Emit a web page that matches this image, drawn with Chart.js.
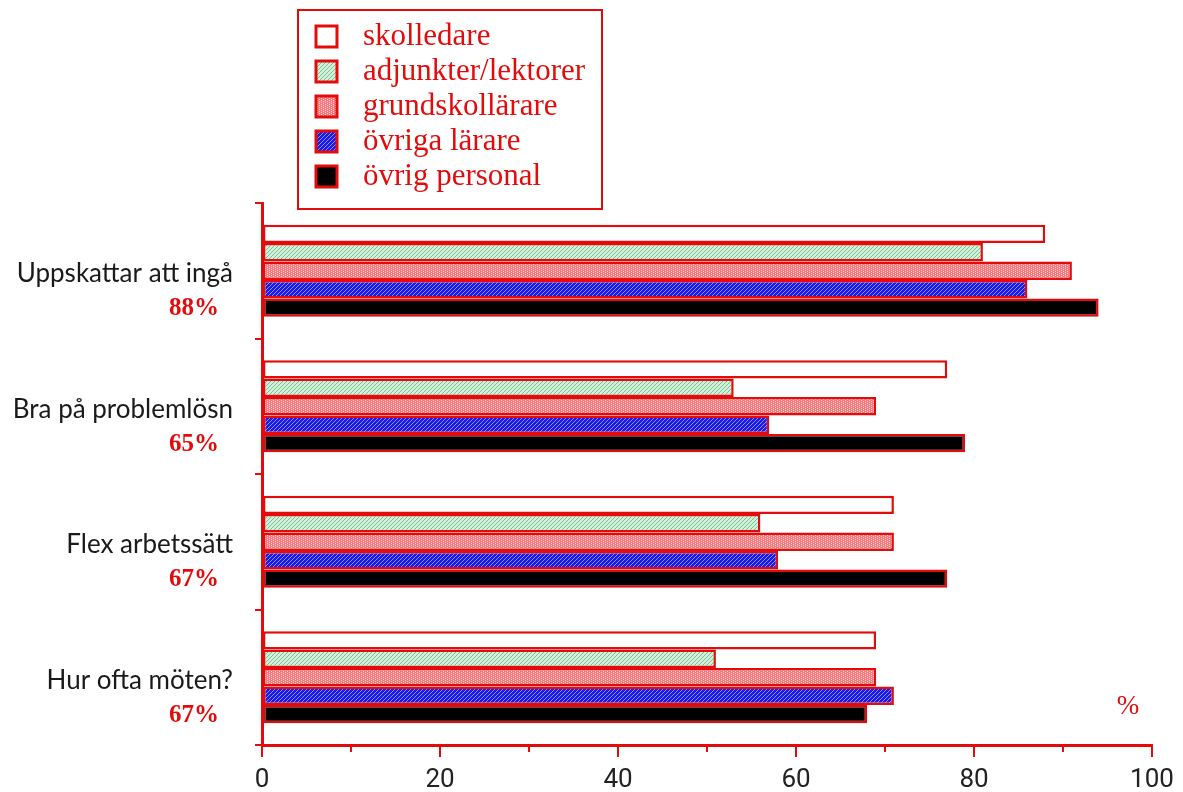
<!DOCTYPE html>
<html>
<head>
  <meta charset="utf-8">
  <script src="https://cdn.jsdelivr.net/npm/chart.js"></script>
  <style>
    html, body { margin: 0; padding: 0; background: #fff; }
    #wrap { width: 1183px; height: 792px; position: relative; }
  </style>
</head>
<body>
  <div id="wrap"><canvas id="chart"></canvas></div>

  <script>
    // kategorier (uppifrån och ned) och andel per fråga
    const categories = ['Uppskattar att ingå', 'Bra på problemlösn', 'Flex arbetssätt', 'Hur ofta möten?'];
    const shares = ['88%', '65%', '67%', '67%'];

    // personalgrupper och deras värden (%)
    const groups = ['skolledare', 'adjunkter/lektorer', 'grundskollärare', 'övriga lärare', 'övrig personal'];
    const skolledare = [88, 77, 71, 69];
    const adjunkter = [81, 53, 56, 51];
    const grundskollarare = [91, 69, 71, 69];
    const ovrigaLarare = [86, 57, 58, 71];
    const ovrigPersonal = [94, 79, 77, 68];

    const xTicks = [0, 20, 40, 60, 80, 100];

    const RED = '#e30b0b';

    // små rastermönster som fyllnad
    function makePattern(bg, fg, pixels) {
      const c = document.createElement('canvas');
      c.width = 4; c.height = 4;
      const g = c.getContext('2d');
      g.fillStyle = bg;
      g.fillRect(0, 0, 4, 4);
      g.fillStyle = fg;
      pixels.forEach(p => g.fillRect(p[0], p[1], 1, 1));
      return g.createPattern(c, 'repeat');
    }

    const fills = [
      '#ffffff',
      makePattern('#d6eedd', '#6cc485', [[0, 3], [1, 2], [2, 1], [3, 0]]),
      makePattern('#ef7d7d', '#fbd2d2', [[1, 0], [1, 2], [3, 1], [3, 3]]),
      makePattern('#1a1ae8', '#8f8fff', [[0, 3], [1, 2], [2, 1], [3, 0]]),
      '#000000'
    ];

    const seriesValues = [skolledare, adjunkter, grundskollarare, ovrigaLarare, ovrigPersonal];

    // andelar under kategorinamnen, legendruta och %-tecken
    const extras = {
      id: 'extras',
      afterDraw(chart) {
        const ctx = chart.ctx;
        const y = chart.scales.y;
        ctx.save();

        // korta mellanstreck på x-axeln
        const x = chart.scales.x;
        ctx.strokeStyle = RED;
        ctx.lineWidth = 2;
        for (let v = 10; v < 100; v += 20) {
          const px = Math.round(x.getPixelForValue(v));
          ctx.beginPath();
          ctx.moveTo(px, chart.chartArea.bottom);
          ctx.lineTo(px, chart.chartArea.bottom + 7);
          ctx.stroke();
        }

        ctx.fillStyle = RED;
        ctx.font = 'bold 25px "Liberation Serif", serif';
        ctx.textAlign = 'right';
        ctx.textBaseline = 'middle';
        shares.forEach((s, i) => {
          ctx.fillText(s, 219, y.getPixelForValue(i) + 38);
        });

        ctx.font = '27px "Liberation Serif", serif';
        ctx.textAlign = 'center';
        ctx.fillText('%', 1128, 707);

        // legend
        ctx.lineWidth = 2;
        ctx.strokeStyle = RED;
        ctx.strokeRect(298, 10, 304, 199);
        ctx.font = '31px "Liberation Serif", serif';
        ctx.textAlign = 'left';
        chart.data.datasets.forEach((ds, i) => {
          const cy = 36 + i * 35;
          ctx.fillStyle = ds.backgroundColor;
          ctx.fillRect(316, cy - 10, 21, 21);
          ctx.lineWidth = 3;
          ctx.strokeStyle = RED;
          ctx.strokeRect(316, cy - 10, 21, 21);
          ctx.fillStyle = RED;
          ctx.fillText(ds.label, 363, cy + 1);
        });
        ctx.restore();
      }
    };

    new Chart(document.getElementById('chart'), {
      type: 'bar',
      data: {
        labels: categories,
        datasets: groups.map((g, i) => ({
          label: g,
          data: seriesValues[i],
          backgroundColor: fills[i],
          borderColor: RED,
          borderWidth: 2.5,
          borderSkipped: false,
          categoryPercentage: 0.68,
          barPercentage: 1
        }))
      },
      options: {
        indexAxis: 'y',
        responsive: true,
        maintainAspectRatio: false,
        animation: false,
        layout: { padding: { top: 203, right: 31, left: 0, bottom: 0 } },
        plugins: {
          legend: { display: false },
          tooltip: { enabled: false }
        },
        scales: {
          x: {
            min: 0,
            max: 100,
            afterFit(scale) { scale.height = 47; },
            afterBuildTicks(scale) {
              scale.ticks = xTicks.map(v => ({ value: v }));
            },
            ticks: {
              color: '#222',
              padding: 8,
              maxRotation: 0,
              font: { family: '"Liberation Sans Narrow", "Roboto", sans-serif', size: 26 }
            },
            grid: {
              drawOnChartArea: false,
              tickLength: 12,
              tickColor: RED,
              tickWidth: 2,
              lineWidth: 2
            },
            border: { color: RED, width: 3 }
          },
          y: {
            afterFit(scale) { scale.width = 262; },
            ticks: {
              color: '#1a1a1a',
              padding: 22,
              labelOffset: 3,
              font: { family: 'Lato, sans-serif', size: 26 }
            },
            grid: {
              offset: true,
              drawOnChartArea: false,
              tickLength: 7,
              tickColor: RED,
              tickWidth: 2,
              lineWidth: 2
            },
            border: { color: RED, width: 3 }
          }
        }
      },
      plugins: [extras]
    });
  </script>
</body>
</html>
